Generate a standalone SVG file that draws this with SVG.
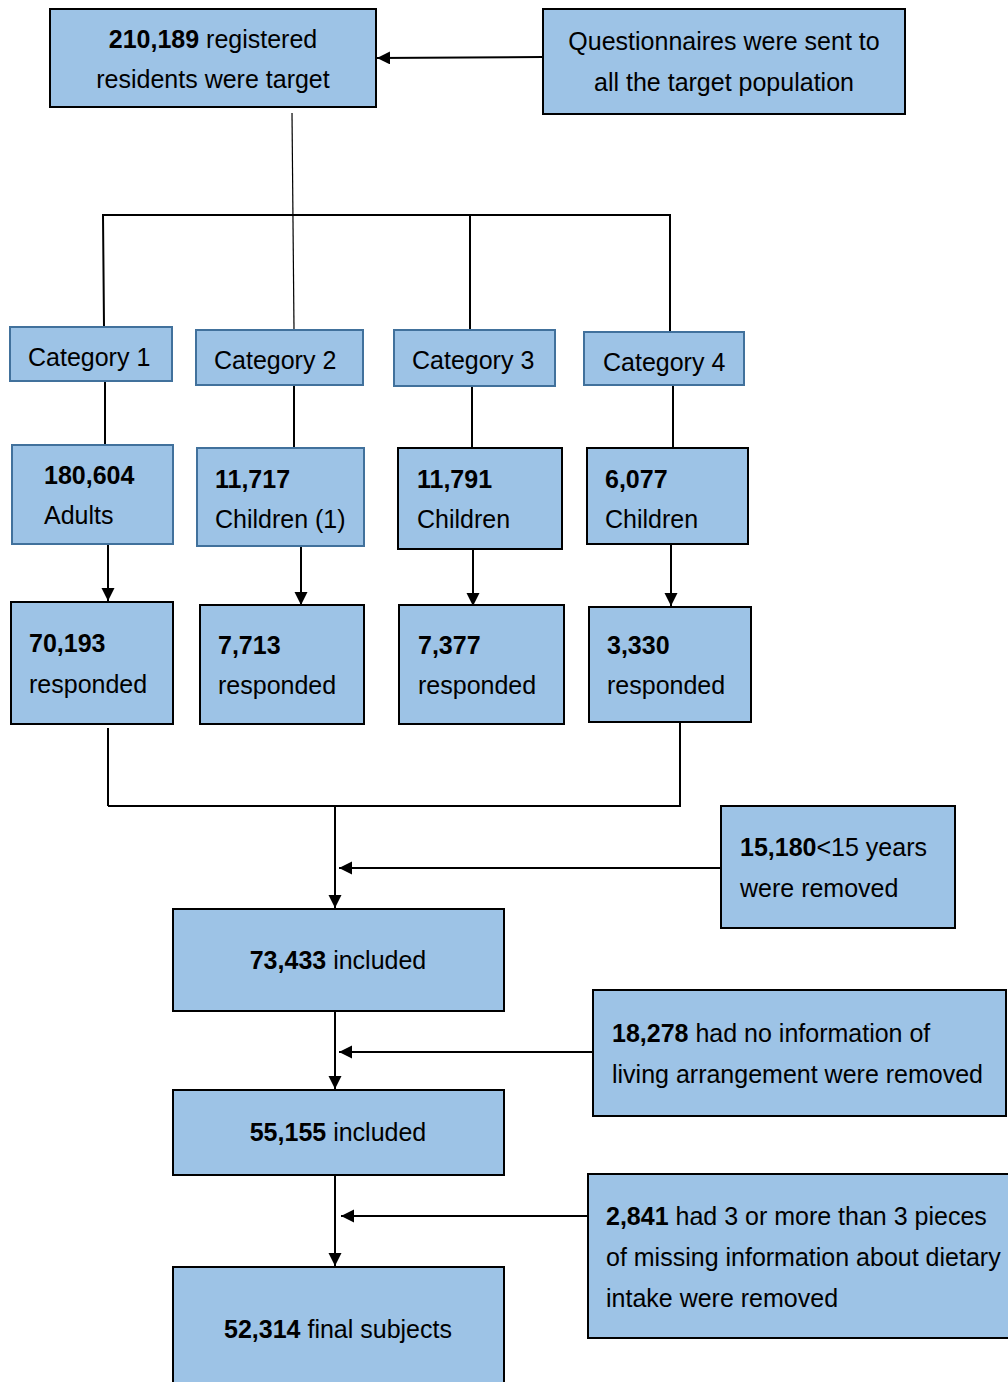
<svg xmlns="http://www.w3.org/2000/svg" width="1008" height="1382" viewBox="0 0 1008 1382">
<style>
.b{fill:#9DC3E6;stroke:#000;stroke-width:2}
.bb{fill:#9DC3E6;stroke:#41719C;stroke-width:2}
text{font-family:"Liberation Sans",Arial,sans-serif;font-size:25px;fill:#000}
.c{text-anchor:middle}
.n{font-weight:bold}
.l{fill:none;stroke:#000;stroke-width:2}
.t{fill:none;stroke:#000;stroke-width:1.2}
</style>
<defs>
<marker id="ah" markerUnits="userSpaceOnUse" markerWidth="14" markerHeight="14" refX="13" refY="6.5" orient="auto">
<path d="M0,0 L13,6.5 L0,13 Z" fill="#000"/>
</marker>
</defs>
<rect width="1008" height="1382" fill="#fff"/>
<g id="connectors">
<line class="l" x1="543" y1="57" x2="377" y2="58" marker-end="url(#ah)"/>
<line class="t" x1="292" y1="113" x2="294" y2="329"/>
<polyline class="l" points="104,326 103,215 670,215 670,332"/>
<line class="l" x1="470" y1="215" x2="470" y2="330"/>
<line class="l" x1="105" y1="381" x2="105" y2="445"/>
<line class="l" x1="294" y1="385" x2="294" y2="449"/>
<line class="l" x1="472" y1="386" x2="472" y2="448"/>
<line class="l" x1="673" y1="385" x2="673" y2="448"/>
<line class="l" x1="108" y1="544" x2="108" y2="601" marker-end="url(#ah)"/>
<line class="l" x1="301" y1="546" x2="301" y2="605" marker-end="url(#ah)"/>
<line class="l" x1="473" y1="549" x2="473" y2="606" marker-end="url(#ah)"/>
<line class="l" x1="671" y1="544" x2="671" y2="606" marker-end="url(#ah)"/>
<line class="l" x1="108" y1="728" x2="108" y2="806"/>
<polyline class="l" points="108,806 680,806 680,722"/>
<line class="l" x1="335" y1="806" x2="335" y2="908" marker-end="url(#ah)"/>
<line class="l" x1="721" y1="868" x2="339" y2="868" marker-end="url(#ah)"/>
<line class="l" x1="335" y1="1011" x2="335" y2="1089" marker-end="url(#ah)"/>
<line class="l" x1="593" y1="1052" x2="339" y2="1052" marker-end="url(#ah)"/>
<line class="l" x1="335" y1="1175" x2="335" y2="1266" marker-end="url(#ah)"/>
<line class="l" x1="587" y1="1216" x2="341" y2="1216" marker-end="url(#ah)"/>
</g>
<g id="target">
<rect class="b" x="50" y="9" width="326" height="98"/>
<text class="c" x="213" y="48"><tspan class="n">210,189</tspan> registered</text>
<text class="c" x="213" y="88">residents were target</text>
</g>
<g id="questionnaires">
<rect class="b" x="543" y="9" width="362" height="105"/>
<text class="c" x="724" y="50">Questionnaires were sent to</text>
<text class="c" x="724" y="91">all the target population</text>
</g>
<g id="cat1"><rect class="bb" x="10" y="327" width="162" height="54"/><text x="28" y="366">Category 1</text></g>
<g id="cat2"><rect class="bb" x="196" y="330" width="167" height="55"/><text x="214" y="369">Category 2</text></g>
<g id="cat3"><rect class="bb" x="394" y="330" width="161" height="56"/><text x="412" y="369">Category 3</text></g>
<g id="cat4"><rect class="bb" x="584" y="332" width="160" height="53"/><text x="603" y="371">Category 4</text></g>
<g id="adults"><rect class="bb" x="12" y="445" width="161" height="99"/><text class="n" x="44" y="484">180,604</text><text x="44" y="524">Adults</text></g>
<g id="children1"><rect class="bb" x="197" y="448" width="167" height="98"/><text class="n" x="215" y="488">11,717</text><text x="215" y="528">Children (1)</text></g>
<g id="children3"><rect class="b" x="398" y="448" width="164" height="101"/><text class="n" x="417" y="488">11,791</text><text x="417" y="528">Children</text></g>
<g id="children4"><rect class="b" x="587" y="448" width="161" height="96"/><text class="n" x="605" y="488">6,077</text><text x="605" y="528">Children</text></g>
<g id="resp1"><rect class="b" x="11" y="602" width="162" height="122"/><text class="n" x="29" y="652">70,193</text><text x="29" y="693">responded</text></g>
<g id="resp2"><rect class="b" x="200" y="605" width="164" height="119"/><text class="n" x="218" y="654">7,713</text><text x="218" y="694">responded</text></g>
<g id="resp3"><rect class="b" x="399" y="605" width="165" height="119"/><text class="n" x="418" y="654">7,377</text><text x="418" y="694">responded</text></g>
<g id="resp4"><rect class="b" x="589" y="607" width="162" height="115"/><text class="n" x="607" y="654">3,330</text><text x="607" y="694">responded</text></g>
<g id="removed1"><rect class="b" x="721" y="806" width="234" height="122"/><text x="740" y="856"><tspan class="n">15,180</tspan>&lt;15 years</text><text x="740" y="897">were removed</text></g>
<g id="included1"><rect class="b" x="173" y="909" width="331" height="102"/><text class="c" x="338" y="969"><tspan class="n">73,433</tspan> included</text></g>
<g id="removed2"><rect class="b" x="593" y="990" width="413" height="126"/><text x="612" y="1042"><tspan class="n">18,278</tspan> had no information of</text><text x="612" y="1083">living arrangement were removed</text></g>
<g id="included2"><rect class="b" x="173" y="1090" width="331" height="85"/><text class="c" x="338" y="1141"><tspan class="n">55,155</tspan> included</text></g>
<g id="removed3"><rect class="b" x="588" y="1174" width="424" height="164"/><text x="606" y="1225"><tspan class="n">2,841</tspan> had 3 or more than 3 pieces</text><text x="606" y="1266">of missing information about dietary</text><text x="606" y="1307">intake were removed</text></g>
<g id="final"><rect class="b" x="173" y="1267" width="331" height="125"/><text class="c" x="338" y="1338"><tspan class="n">52,314</tspan> final subjects</text></g>
</svg>
